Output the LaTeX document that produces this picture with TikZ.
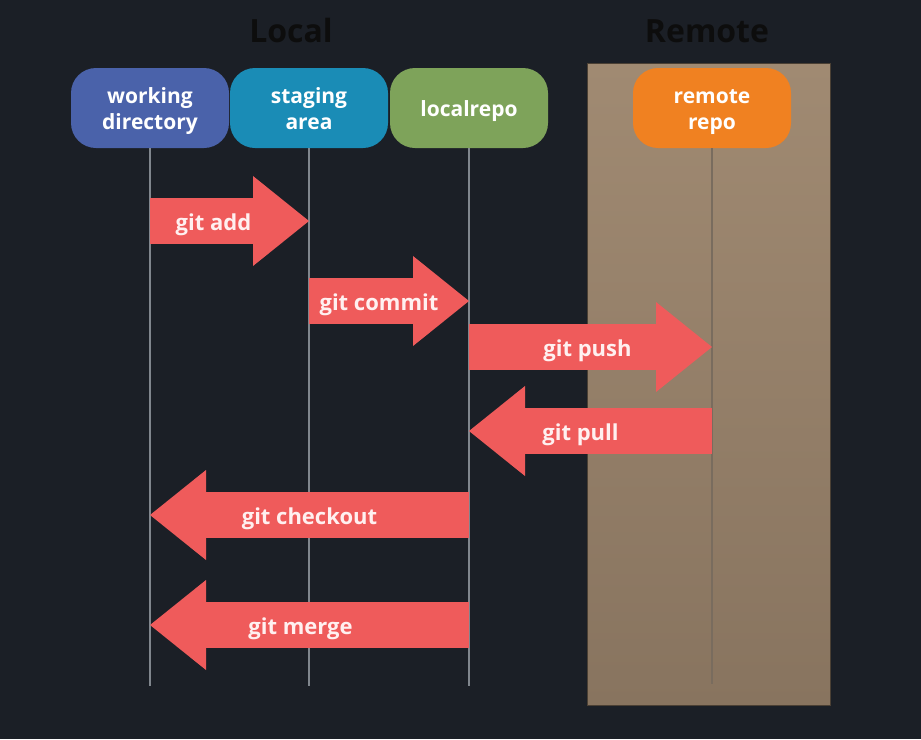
\documentclass[tikz,border=0pt]{standalone}
\usepackage{fontspec}
\setmainfont{Open Sans}
\usetikzlibrary{arrows.meta}
\usetikzlibrary{positioning}
\usetikzlibrary{calc}

\definecolor{bgdark}{HTML}{1B1F26}
\definecolor{wdblue}{HTML}{4A62AA}
\definecolor{sacyan}{HTML}{1A8CB6}
\definecolor{lrgreen}{HTML}{7EA35A}
\definecolor{rrorange}{HTML}{F08121}
\definecolor{arrowred}{HTML}{EF5B5B}
\definecolor{lifegray}{HTML}{80868D}
\definecolor{remotetop}{HTML}{A08A72}
\definecolor{remotebot}{HTML}{88745F}

\tikzset{
  area/.style={font=\bfseries\fontsize{32}{36}\selectfont, text=black!95},
  repo/.style={rounded corners=25pt, minimum width=158pt, minimum height=80pt,
    align=center, text=white, font=\bfseries\fontsize{21}{26}\selectfont,
    text height=43pt, text depth=0pt},
  oneline/.style={text height=16pt, text depth=0pt},
  lifeline/.style={draw=lifegray, line width=1.6pt},
  gitarrow/.style={draw=arrowred, line width=46pt,
    -{Triangle[length=56pt,width=90pt,line width=0pt]}},
  gitlabel/.style={text=white!94!red, font=\bfseries\fontsize{22}{26}\selectfont,
    text height=19pt, text depth=0pt}
}

\begin{document}
\begin{tikzpicture}[x=1pt,y=-1pt]
\fill[bgdark] (0,0) rectangle (921,739);
\useasboundingbox (0,0) rectangle (921,739);

% remote side
\shade[top color=remotetop, bottom color=remotebot, draw=black!45!remotebot, line width=0.8pt]
  (587,63) rectangle (830,705);

\node[area, anchor=base] (local) at (291,42) {Local};
\node[area, anchor=base] (remote) at (707,42) {Remote};

\node[repo, fill=wdblue] (wd) at (150,108) {working\\directory};
\node[repo, fill=sacyan] (sa) at (309,108) {staging\\area};
\node[repo, oneline, fill=lrgreen] (lr) at (469,108) {localrepo};
\node[repo, fill=rrorange] (rr) at (712,108) {remote\\repo};

\coordinate (wdEnd) at (wd.south |- 0,686);
\coordinate (saEnd) at (sa.south |- 0,686);
\coordinate (lrEnd) at (lr.south |- 0,686);
\coordinate (rrEnd) at (rr.south |- 0,684);

\draw[lifeline] (wd.south) -- (wdEnd);
\draw[lifeline] (sa.south) -- (saEnd);
\draw[lifeline] (lr.south) -- (lrEnd);
\draw[lifeline, draw=black!25!remotetop!80!gray] (rr.south) -- (rrEnd);

% commands
\draw[gitarrow] (wd.south |- 0,221) -- (sa.south |- 0,221)
  node[gitlabel, midway, xshift=-16pt] (add) {git add};
\draw[gitarrow] (sa.south |- 0,301) -- (lr.south |- 0,301)
  node[gitlabel, midway, xshift=-10pt] (commit) {git commit};
\draw[gitarrow] (lr.south |- 0,347) -- (rr.south |- 0,347)
  node[gitlabel, midway, xshift=-3pt] (push) {git push};
\draw[gitarrow] (rr.south |- 0,431) -- (lr.south |- 0,431)
  node[gitlabel, midway, xshift=-10pt] (pull) {git pull};
\draw[gitarrow] (lr.south |- 0,515) -- (wd.south |- 0,515)
  node[gitlabel, midway] (checkout) {git checkout};
\draw[gitarrow] (lr.south |- 0,625) -- (wd.south |- 0,625)
  node[gitlabel, midway, xshift=-9pt] (merge) {git merge};
\end{tikzpicture}
\end{document}
